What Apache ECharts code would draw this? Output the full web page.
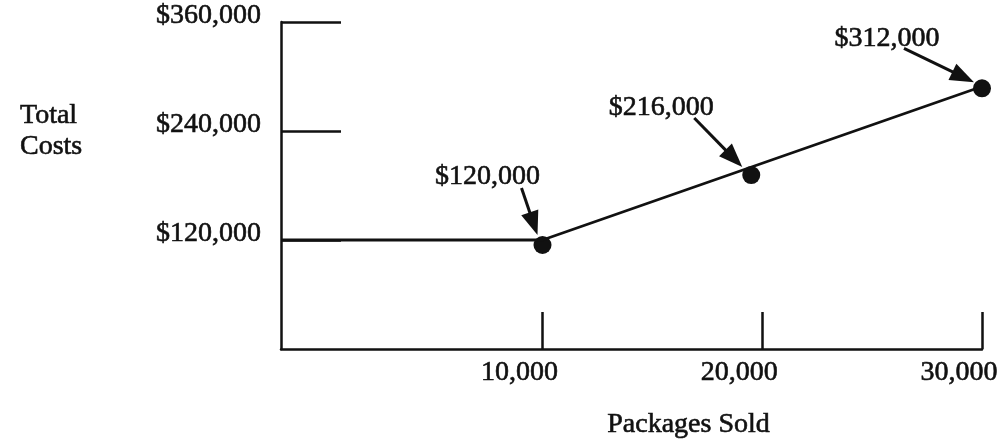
<!DOCTYPE html>
<html>
<head>
<meta charset="utf-8">
<script src="https://cdn.jsdelivr.net/npm/echarts@6/dist/echarts.min.js"></script>
<style>
  html, body { margin: 0; padding: 0; background: #fff; }
  #chart { width: 1003px; height: 441px; }
</style>
</head>
<body>
<div id="chart"></div>
<script>
// ---- data ----
const xAxisMin = -1900;               // axis is drawn "not to scale": y-axis sits left of 0
const xAxisMax = 30000;
const xTickValues = [10000, 20000, 30000];
const xTickLabels = ['10,000', '20,000', '30,000'];
const yTickValues = [120000, 240000, 360000];
const yTickLabels = ['$120,000', '$240,000', '$360,000'];
const costLineX = [xAxisMin, 10000, 30000];
const costLineY = [120000, 120000, 289000];
const pointX = [10000, 19500, 30000];
const pointY = [114500, 191500, 287000];
const pointLabels = ['$120,000', '$216,000', '$312,000'];
const xAxisTitle = 'Packages Sold';
const yAxisTitle = 'Total\nCosts';

// ---- styles (pixel offsets relative to each point) ----
const labelOffsets = [[-55, -68], [-90, -67], [-95, -50]];
const arrowStart = [[-21, -57], [-57, -57], [-78, -40]];
const arrowTip = [[-5, -10], [-9, -8], [-8, -6]];

const INK = '#111';
const FONT = 'Liberation Serif';
const FS = 28;
const BOLDEN = { textBorderColor: INK, textBorderWidth: 0.6 };

const chart = echarts.init(document.getElementById('chart'));

const lineData = costLineX.map((x, i) => [x, costLineY[i]]);
const pointData = pointX.map((x, i) => ({
  value: [x, pointY[i]],
  label: { offset: labelOffsets[i] }
}));

chart.setOption({
  animation: false,
  backgroundColor: '#fff',
  title: {
    text: yAxisTitle,
    left: 15, top: 95,
    textStyle: Object.assign({ fontFamily: FONT, fontSize: FS, fontWeight: 'normal', color: INK, lineHeight: 31 }, BOLDEN)
  },
  grid: { left: 281, right: 21, top: 22, bottom: 92, outerBoundsMode: 'none', containLabel: false },
  xAxis: {
    type: 'value',
    min: xAxisMin, max: xAxisMax,
    splitLine: { show: false },
    axisLine: { show: true, onZero: false, lineStyle: { color: INK, width: 2.5 } },
    axisTick: { show: true, inside: true, length: 37, customValues: xTickValues, lineStyle: { color: INK, width: 2.5 } },
    axisLabel: Object.assign({
      customValues: xTickValues,
      formatter: v => xTickLabels[xTickValues.indexOf(v)] || '',
      fontFamily: FONT, fontSize: FS, color: INK,
      margin: 10,
      align: 'center',
      padding: [0, 46, 0, 0]
    }, BOLDEN),
    name: xAxisTitle,
    nameLocation: 'middle',
    nameGap: 62,
    nameTextStyle: Object.assign({ fontFamily: FONT, fontSize: FS, color: INK, padding: [0, 0, 0, 114] }, BOLDEN)
  },
  yAxis: {
    type: 'value',
    min: 0, max: 360000,
    splitLine: { show: false },
    axisLine: { show: true, onZero: false, lineStyle: { color: INK, width: 2.5 } },
    axisTick: { show: true, inside: true, length: 60, customValues: yTickValues, lineStyle: { color: INK, width: 2.5 } },
    axisLabel: Object.assign({
      customValues: yTickValues,
      formatter: v => yTickLabels[yTickValues.indexOf(v)] || '',
      fontFamily: FONT, fontSize: FS, color: INK,
      margin: 20,
      verticalAlign: 'bottom',
      lineHeight: 12
    }, BOLDEN)
  },
  series: [
    {
      type: 'line',
      data: lineData,
      symbol: 'none',
      clip: false,
      lineStyle: { color: INK, width: 2.8 }
    },
    {
      type: 'scatter',
      data: pointData,
      symbol: 'circle',
      symbolSize: 18,
      clip: false,
      itemStyle: { color: INK, opacity: 1 },
      label: Object.assign({
        show: true,
        position: 'inside',
        formatter: p => pointLabels[p.dataIndex],
        fontFamily: FONT, fontSize: FS, color: INK
      }, BOLDEN)
    }
  ]
});

// arrows from each label to its point
const graphics = [];
pointX.forEach((x, i) => {
  const p = chart.convertToPixel({ seriesIndex: 1 }, [x, pointY[i]]);
  const s = [p[0] + arrowStart[i][0], p[1] + arrowStart[i][1]];
  const t = [p[0] + arrowTip[i][0], p[1] + arrowTip[i][1]];
  const dx = t[0] - s[0], dy = t[1] - s[1];
  const len = Math.hypot(dx, dy);
  const u = [dx / len, dy / len];
  const n = [-u[1], u[0]];
  const headLen = 24, headHalf = 9;
  const base = [t[0] - u[0] * headLen, t[1] - u[1] * headLen];
  graphics.push({
    type: 'line', silent: true,
    shape: { x1: s[0], y1: s[1], x2: base[0] + u[0] * 2, y2: base[1] + u[1] * 2 },
    style: { stroke: INK, lineWidth: 3 }
  });
  graphics.push({
    type: 'polygon', silent: true,
    shape: { points: [t, [base[0] + n[0] * headHalf, base[1] + n[1] * headHalf], [base[0] - n[0] * headHalf, base[1] - n[1] * headHalf]] },
    style: { fill: INK }
  });
});
chart.setOption({ graphic: graphics });
</script>
</body>
</html>
